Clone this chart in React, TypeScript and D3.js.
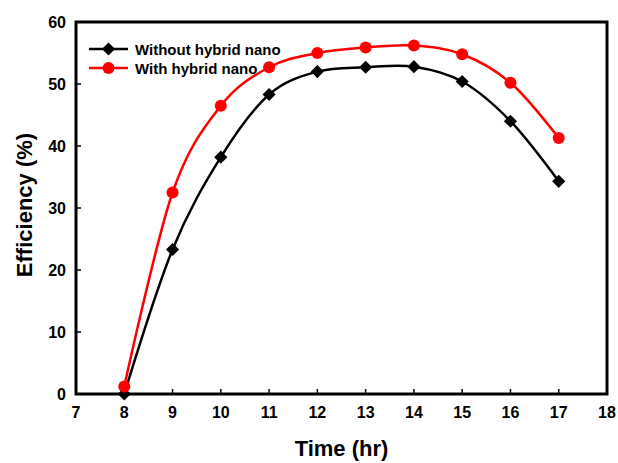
import * as d3 from 'd3';
import React, {useEffect, useRef} from 'react';

const hours = [8, 9, 10, 11, 12, 13, 14, 15, 16, 17];
const withoutNano = [0, 23.3, 38.2, 48.3, 52.0, 52.7, 52.8, 50.4, 44.0, 34.3];
const withNano = [1.2, 32.5, 46.5, 52.7, 55.0, 55.9, 56.2, 54.8, 50.2, 41.3];
const xTicks = [7, 8, 9, 10, 11, 12, 13, 14, 15, 16, 17, 18];
const yTicks = [0, 10, 20, 30, 40, 50, 60];
const seriesNames = ['Without hybrid nano', 'With hybrid nano'];

const App = () => {
  const svgRef = useRef<SVGSVGElement>(null);

  useEffect(() => {
    const svg = d3.select(svgRef.current);
    svg.selectAll('*').remove();
    const font = 'Liberation Sans, Arial, sans-serif';

    // plot frame edges
    const left = 76, right = 607, top = 22, bottom = 394;

    const x = d3.scaleLinear().domain([7, 18]).range([left, right]);
    const y = d3.scaleLinear().domain([0, 60]).range([bottom, top]);

    // frame
    svg.append('rect')
      .attr('x', left).attr('y', top)
      .attr('width', right - left).attr('height', bottom - top)
      .attr('fill', 'none').attr('stroke', '#000').attr('stroke-width', 3);

    // ticks (inside)
    svg.append('g').selectAll('line').data(xTicks.slice(1, -1)).enter().append('line')
      .attr('x1', d => x(d)).attr('x2', d => x(d))
      .attr('y1', bottom).attr('y2', bottom - 5)
      .attr('stroke', '#000').attr('stroke-width', 1.5);
    svg.append('g').selectAll('line').data(yTicks.slice(1, -1)).enter().append('line')
      .attr('x1', left).attr('x2', left + 5)
      .attr('y1', d => y(d)).attr('y2', d => y(d))
      .attr('stroke', '#000').attr('stroke-width', 1.5);

    // tick labels
    svg.append('g').selectAll('text').data(xTicks).enter().append('text')
      .attr('x', d => x(d)).attr('y', 418)
      .attr('text-anchor', 'middle')
      .style('font-family', font).style('font-weight', 'bold').style('font-size', '16px')
      .text(d => d);
    svg.append('g').selectAll('text').data(yTicks).enter().append('text')
      .attr('x', 66).attr('y', d => y(d) + 6)
      .attr('text-anchor', 'end')
      .style('font-family', font).style('font-weight', 'bold').style('font-size', '16px')
      .text(d => d);

    // axis titles
    svg.append('text')
      .attr('x', (left + right) / 2).attr('y', 456)
      .attr('text-anchor', 'middle')
      .style('font-family', font).style('font-weight', 'bold').style('font-size', '22px')
      .text('Time (hr)');
    svg.append('text')
      .attr('transform', `translate(32, 205) rotate(-90)`)
      .attr('text-anchor', 'middle')
      .style('font-family', font).style('font-weight', 'bold').style('font-size', '22px')
      .text('Efficiency (%)');

    const line = d3.line<number>()
      .x((d, i) => x(hours[i]))
      .y(d => y(d))
      .curve(d3.curveCardinal.tension(0));

    // black series
    svg.append('path').datum(withoutNano)
      .attr('d', line).attr('fill', 'none')
      .attr('stroke', '#000').attr('stroke-width', 2.5);
    svg.append('g').selectAll('path').data(withoutNano).enter().append('path')
      .attr('d', d3.symbol().type(d3.symbolDiamond2).size(110)() as string)
      .attr('transform', (d, i) => `translate(${x(hours[i])},${y(d)})`)
      .attr('fill', '#000');

    // red series
    svg.append('path').datum(withNano)
      .attr('d', line).attr('fill', 'none')
      .attr('stroke', '#ff0000').attr('stroke-width', 2.5);
    svg.append('g').selectAll('circle').data(withNano).enter().append('circle')
      .attr('cx', (d, i) => x(hours[i])).attr('cy', d => y(d))
      .attr('r', 6).attr('fill', '#ff0000');

    // legend
    const legend = svg.append('g');
    const colors = ['#000', '#ff0000'];
    seriesNames.forEach((name, i) => {
      const ly = 49 + i * 19;
      legend.append('line')
        .attr('x1', 89).attr('x2', 128).attr('y1', ly).attr('y2', ly)
        .attr('stroke', colors[i]).attr('stroke-width', 2.5);
      if (i === 0) {
        legend.append('path')
          .attr('d', d3.symbol().type(d3.symbolDiamond2).size(110)() as string)
          .attr('transform', `translate(108.5,${ly})`).attr('fill', '#000');
      } else {
        legend.append('circle').attr('cx', 108.5).attr('cy', ly).attr('r', 6).attr('fill', '#ff0000');
      }
      legend.append('text')
        .attr('x', 135).attr('y', ly + 5.5)
        .style('font-family', font).style('font-weight', 'bold').style('font-size', '15px')
        .text(name);
    });
  }, []);

  return (
    <svg ref={svgRef} width="618" height="463" style={{position: 'absolute', left: 0, top: 0, background: '#fff'}}></svg>
  );
};

export default App;
